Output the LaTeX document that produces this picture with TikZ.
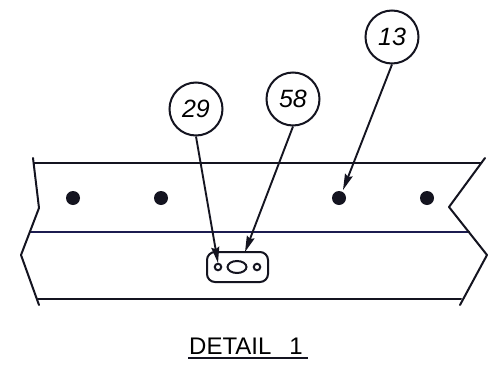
\documentclass[tikz,border=0pt]{standalone}
\usepackage{fontspec}
\setmainfont{Liberation Sans}
\usetikzlibrary{arrows.meta}
\definecolor{ink}{HTML}{141420}
\definecolor{navy}{HTML}{1C1C50}
\tikzset{
  x=1pt,y=-1pt,
  edge/.style={draw=ink,line width=2pt,line cap=round,line join=round},
  thin edge/.style={draw=navy,line width=1.8pt},
  balloon/.style={circle,draw=ink,line width=2pt,minimum size=53pt,inner sep=0pt,fill=white,font=\fontsize{25}{25}\selectfont\itshape},
  leader/.style={draw=ink,line width=1.9pt,-{Stealth[length=16pt,width=8pt,inset=2pt]}},
  dot/.style={circle,fill=ink,draw=none,minimum size=14pt,inner sep=0pt},
  hole/.style={circle,draw=ink,line width=2pt,minimum size=6.5pt,inner sep=0pt},
  slot/.style={draw=ink,line width=2pt},
}
\begin{document}
\begin{tikzpicture}
\useasboundingbox (0,0) rectangle (498,367);
\fill[white] (0,0) rectangle (498,367);
% horizontal edges
\draw[edge] (34,163) -- (481,163);
\draw[thin edge] (29,232) -- (470,232);
\draw[edge] (38,299) -- (461,299);
% broken ends
\draw[edge] (33,158) -- (39,208) -- (21,255) -- (39,305);
\draw[edge] (485,158) -- (449,207) -- (487,255) -- (460,305);
% dots
\node[dot] (d1) at (73,198) {};
\node[dot] (d2) at (161,198) {};
\node[dot] (d3) at (339,198) {};
\node[dot] (d4) at (427,198) {};
% plate
\draw[edge,rounded corners=8pt] (207,252) rectangle (268,282);
\node[hole] (h1) at (218,267) {};
\node[hole] (h2) at (257,267) {};
\draw[slot] (237,267) ellipse [x radius=9.5pt,y radius=6pt];
\coordinate (t13) at (343,190);
\coordinate (t58) at (245,252);
\coordinate (t29) at (218,263);
% balloons
\node[balloon] (b13) at (392,37) {13};
\node[balloon] (b58) at (293,99) {58};
\node[balloon] (b29) at (196,109) {29};
\draw[leader] (b13.south) -- (t13);
\draw[leader] (b58.south) -- (t58);
\draw[leader] (b29.south) -- (t29);
% title
\node[font=\fontsize{24}{24}\selectfont,inner sep=0pt,anchor=base west] (title) at (189,354) {DETAIL\hspace{18pt}1};
\draw[draw=ink,line width=2pt] (188,358) -- (308,358);
\end{tikzpicture}
\end{document}
